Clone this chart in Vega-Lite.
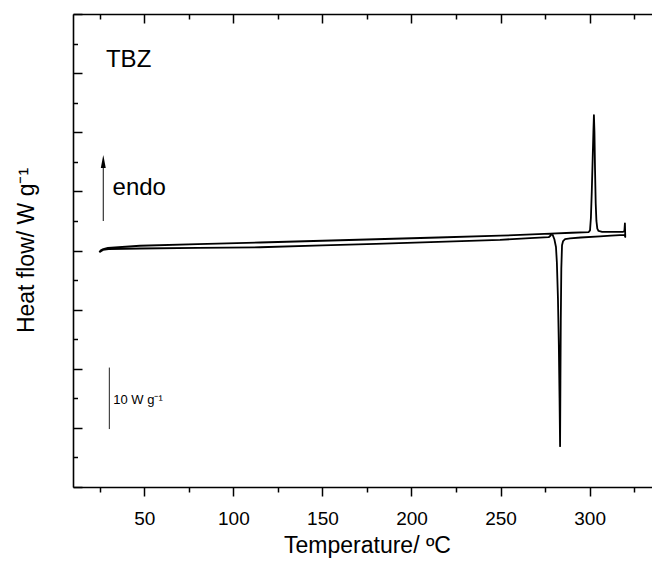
{
  "$schema": "https://vega.github.io/schema/vega-lite/v6.json",
  "width": 579,
  "height": 473,
  "autosize": {"type": "none"},
  "padding": {"left": 73, "top": 14, "right": 0, "bottom": 74},
  "background": "white",
  "config": {
    "view": {"stroke": null},
    "font": "Liberation Sans",
    "axis": {
      "grid": false,
      "domainColor": "black",
      "domainWidth": 1.6,
      "tickColor": "black",
      "tickWidth": 1.5,
      "labelFont": "Liberation Sans",
      "titleFont": "Liberation Sans",
      "labelColor": "black",
      "titleColor": "black",
      "titleFontWeight": "normal",
      "labelFontSize": 19,
      "titleFontSize": 23
    }
  },
  "datasets": {
    "curve": [
      {"i": 1, "T": 24.8, "hf": -0.3},
      {"i": 2, "T": 25.6, "hf": 0.05},
      {"i": 3, "T": 27.0, "hf": 0.25},
      {"i": 4, "T": 29.6, "hf": 0.45},
      {"i": 5, "T": 47.6, "hf": 0.8},
      {"i": 6, "T": 80, "hf": 1.08},
      {"i": 7, "T": 115, "hf": 1.35},
      {"i": 8, "T": 150, "hf": 1.65},
      {"i": 9, "T": 180, "hf": 1.9},
      {"i": 10, "T": 215, "hf": 2.2},
      {"i": 11, "T": 249.7, "hf": 2.5},
      {"i": 12, "T": 278, "hf": 2.85},
      {"i": 13, "T": 290, "hf": 3.0},
      {"i": 14, "T": 299.5, "hf": 3.12},
      {"i": 15, "T": 300.2, "hf": 3.4},
      {"i": 16, "T": 300.7, "hf": 5.5},
      {"i": 17, "T": 301.2, "hf": 10},
      {"i": 18, "T": 301.7, "hf": 15.5},
      {"i": 19, "T": 302.1, "hf": 20},
      {"i": 20, "T": 302.4, "hf": 22.9},
      {"i": 21, "T": 302.7, "hf": 20},
      {"i": 22, "T": 303.0, "hf": 14},
      {"i": 23, "T": 303.4, "hf": 8},
      {"i": 24, "T": 303.8, "hf": 5},
      {"i": 25, "T": 304.3, "hf": 3.7},
      {"i": 26, "T": 305, "hf": 3.3},
      {"i": 27, "T": 307, "hf": 3.15},
      {"i": 28, "T": 318.8, "hf": 3.15},
      {"i": 29, "T": 319.5, "hf": 3.3},
      {"i": 30, "T": 319.8, "hf": 4.6},
      {"i": 31, "T": 320.0, "hf": 2.3},
      {"i": 32, "T": 319.6, "hf": 2.65},
      {"i": 33, "T": 312, "hf": 2.5},
      {"i": 34, "T": 305.8, "hf": 2.4},
      {"i": 35, "T": 295, "hf": 2.2},
      {"i": 36, "T": 289, "hf": 2.05},
      {"i": 37, "T": 286.2, "hf": 1.93},
      {"i": 38, "T": 285.1, "hf": 1.6},
      {"i": 39, "T": 284.5, "hf": 0.9},
      {"i": 40, "T": 284.1, "hf": -3},
      {"i": 41, "T": 283.8, "hf": -12},
      {"i": 42, "T": 283.6, "hf": -22},
      {"i": 43, "T": 283.4, "hf": -33.1},
      {"i": 44, "T": 283.1, "hf": -25},
      {"i": 45, "T": 282.7, "hf": -16},
      {"i": 46, "T": 282.2, "hf": -8},
      {"i": 47, "T": 281.6, "hf": -2},
      {"i": 48, "T": 281.1, "hf": 0.6},
      {"i": 49, "T": 280.2, "hf": 1.9},
      {"i": 50, "T": 279.3, "hf": 2.6},
      {"i": 51, "T": 278.7, "hf": 2.8},
      {"i": 52, "T": 278.0, "hf": 2.5},
      {"i": 53, "T": 277.0, "hf": 2.25},
      {"i": 54, "T": 266.5, "hf": 2.1},
      {"i": 55, "T": 249.7, "hf": 1.8},
      {"i": 56, "T": 215, "hf": 1.45},
      {"i": 57, "T": 180, "hf": 1.12},
      {"i": 58, "T": 150, "hf": 0.85},
      {"i": 59, "T": 115, "hf": 0.55},
      {"i": 60, "T": 80, "hf": 0.43},
      {"i": 61, "T": 47.6, "hf": 0.34},
      {"i": 62, "T": 30, "hf": 0.22},
      {"i": 63, "T": 26.8, "hf": 0.1},
      {"i": 64, "T": 24.8, "hf": -0.3}
    ],
    "scalebar": [{"T": 30.4, "hf": -30.2, "hf2": -19.8}],
    "arrow": [{"T": 27, "hf": 5, "hf2": 14.5}],
    "arrowhead": [{"T": 27, "hf": 15.07}],
    "bigtext": [
      {"T": 28.5, "hf": 31.1, "label": "TBZ"},
      {"T": 32.2, "hf": 9.4, "label": "endo"}
    ],
    "smalltext": [{"T": 32.6, "hf": -25.3, "label": "10 W g⁻¹"}]
  },
  "resolve": {"axis": {"x": "independent", "y": "independent"}},
  "layer": [
    {
      "data": {"name": "curve"},
      "mark": {"type": "line", "color": "black", "strokeWidth": 1.8, "strokeJoin": "round"},
      "encoding": {
        "x": {
          "field": "T", "type": "quantitative",
          "scale": {"domain": [10, 335], "nice": false, "zero": false},
          "axis": {
            "orient": "bottom",
            "title": "Temperature/ ºC",
            "values": [25, 50, 75, 100, 125, 150, 175, 200, 225, 250, 275, 300, 325],
            "labelExpr": "datum.value % 50 === 0 ? datum.label : ''",
            "tickSize": {"condition": {"test": "datum.value % 50 === 0", "value": 9}, "value": 5},
            "labelPadding": 13,
            "labelFlush": false,
            "labelOverlap": false,
            "titleX": 294,
            "titleY": 65,
            "titleBaseline": "alphabetic",
            "titleAlign": "center"
          }
        },
        "y": {
          "field": "hf", "type": "quantitative",
          "scale": {"domain": [-40, 40], "nice": false, "zero": false},
          "axis": null
        },
        "order": {"field": "i", "type": "quantitative"}
      }
    },
    {
      "data": {"name": "scalebar"},
      "mark": {"type": "rule", "color": "#222", "strokeWidth": 1},
      "encoding": {
        "x": {
          "field": "T", "type": "quantitative",
          "axis": {
            "orient": "top",
            "title": null,
            "labels": false,
            "values": [25, 50, 75, 100, 125, 150, 175, 200, 225, 250, 275, 300, 325],
            "tickSize": {"condition": {"test": "datum.value % 50 === 0", "value": -9}, "value": -5}
          }
        },
        "y": {
          "field": "hf", "type": "quantitative",
          "axis": {
            "orient": "left",
            "title": "Heat flow/ W g⁻¹",
            "values": [-40, -35, -30, -25, -20, -15, -10, -5, 0, 5, 10, 15, 20, 25, 30, 35, 40],
            "labels": false,
            "tickSize": {"condition": {"test": "datum.value % 10 === 0", "value": -9}, "value": -4.5},
            "titleX": -40,
            "titleY": 236,
            "titleAngle": 270,
            "titleAlign": "center",
            "titleBaseline": "alphabetic"
          }
        },
        "y2": {"field": "hf2"}
      }
    },
    {
      "data": {"name": "arrow"},
      "mark": {"type": "rule", "color": "#222", "strokeWidth": 1.1},
      "encoding": {
        "x": {"field": "T", "type": "quantitative", "axis": null},
        "y": {"field": "hf", "type": "quantitative", "axis": null},
        "y2": {"field": "hf2"}
      }
    },
    {
      "data": {"name": "arrowhead"},
      "mark": {"type": "point", "shape": "M0,-1L0.38,1L-0.38,1Z", "size": 169, "filled": true, "color": "black", "opacity": 1},
      "encoding": {
        "x": {"field": "T", "type": "quantitative", "axis": null},
        "y": {"field": "hf", "type": "quantitative", "axis": null}
      }
    },
    {
      "data": {"name": "bigtext"},
      "mark": {"type": "text", "align": "left", "baseline": "alphabetic", "fontSize": 24, "font": "Liberation Sans", "color": "black"},
      "encoding": {
        "x": {"field": "T", "type": "quantitative", "axis": null},
        "y": {"field": "hf", "type": "quantitative", "axis": null},
        "text": {"field": "label"}
      }
    },
    {
      "data": {"name": "smalltext"},
      "mark": {"type": "text", "align": "left", "baseline": "middle", "fontSize": 13, "font": "Liberation Sans", "color": "black"},
      "encoding": {
        "x": {"field": "T", "type": "quantitative", "axis": null},
        "y": {"field": "hf", "type": "quantitative", "axis": null},
        "text": {"field": "label"}
      }
    }
  ]
}
